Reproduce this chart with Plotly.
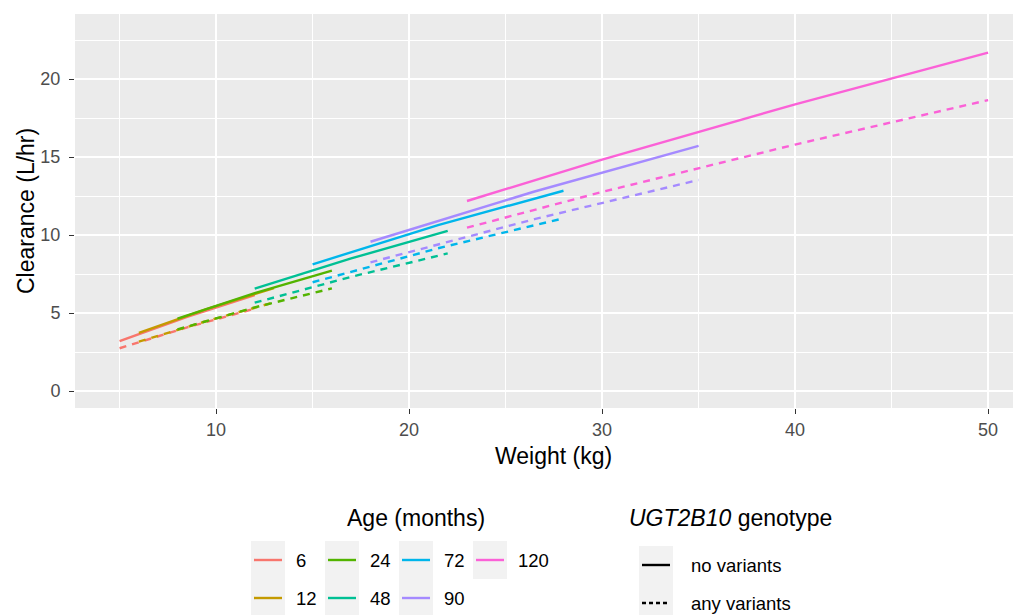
import plotly.graph_objects as go

# ---------------- data ----------------
ages = [6, 12, 24, 48, 72, 90, 120]
age_colors = ["#F8766D", "#C49A00", "#53B400", "#00C094", "#00B6EB", "#A58AFF", "#FB61D7"]

weight_points = [
    [5, 8.5, 12],
    [6, 9.5, 13],
    [8, 12, 16],
    [12, 17, 22],
    [15, 21.5, 28],
    [18, 26.5, 35],
    [23, 30, 40, 50],
]
clearance_no_variants = [
    [3.20, 4.76, 6.15],
    [3.72, 5.25, 6.60],
    [4.64, 6.28, 7.72],
    [6.56, 8.50, 10.26],
    [8.12, 10.64, 12.84],
    [9.57, 12.79, 15.71],
    [12.18, 14.84, 18.38, 21.69],
]
clearance_any_variants = [
    [2.74, 4.08, 5.28],
    [3.16, 4.48, 5.68],
    [3.95, 5.36, 6.58],
    [5.66, 7.32, 8.82],
    [6.97, 9.15, 11.07],
    [8.25, 11.02, 13.53],
    [10.47, 12.76, 15.80, 18.65],
]
genotypes = ["no variants", "any variants"]
x_ticks = [10, 20, 30, 40, 50]
y_ticks = [0, 5, 10, 15, 20]

# ---------------- style ----------------
FONT = "Liberation Sans"
W, H = 1013, 615
L, R, T, B = 75, 0, 14, 207
LW = 2.4
DASH = "7px,6px"
TITLE_SIZE = 23
TICK_SIZE = 18
LEG_SIZE = 18.5


def px(x):
    return (x - L) / (W - L - R)


def py(y):
    return (H - B - y) / (H - T - B)


fig = go.Figure()

for age, col, w, cn, ca in zip(ages, age_colors, weight_points,
                               clearance_no_variants, clearance_any_variants):
    fig.add_trace(go.Scatter(x=w, y=cn, mode="lines", name=f"{age} no variants",
                             line=dict(color=col, width=LW), showlegend=False))
    fig.add_trace(go.Scatter(x=w, y=ca, mode="lines", name=f"{age} any variants",
                             line=dict(color=col, width=LW, dash=DASH), showlegend=False))

shapes = []
annotations = []

# axis titles
annotations.append(dict(text="Weight (kg)", x=px(553), y=py(456), xref="paper", yref="paper",
                        showarrow=False, xanchor="center", yanchor="middle",
                        font=dict(family=FONT, size=TITLE_SIZE, color="black")))
annotations.append(dict(text="Clearance (L/hr)", x=px(26), y=py(211), xref="paper", yref="paper",
                        showarrow=False, xanchor="center", yanchor="middle", textangle=-90,
                        font=dict(family=FONT, size=TITLE_SIZE, color="black")))

# ---- Age legend (2 rows, column-major) ----
annotations.append(dict(text="Age (months)", x=px(416), y=py(518), xref="paper", yref="paper",
                        showarrow=False, xanchor="center", yanchor="middle",
                        font=dict(family=FONT, size=TITLE_SIZE, color="black")))
col_left = [251, 325, 399, 473]
row_cy = [560, 598]
KW, KH = 34, 38
for i, (age, col) in enumerate(zip(ages, age_colors)):
    c, r = divmod(i, 2)
    x0 = col_left[c]
    cy = row_cy[r]
    shapes.append(dict(type="rect", xref="paper", yref="paper",
                       x0=px(x0), x1=px(x0 + KW), y0=py(cy - KH / 2), y1=py(cy + KH / 2),
                       fillcolor="#F2F2F2", line=dict(width=0), layer="above"))
    shapes.append(dict(type="line", xref="paper", yref="paper",
                       x0=px(x0 + 3), x1=px(x0 + KW - 3), y0=py(cy), y1=py(cy),
                       line=dict(color=col, width=LW), layer="above"))
    annotations.append(dict(text=str(age), x=px(x0 + KW + 9), y=py(cy), xref="paper", yref="paper",
                            showarrow=False, xanchor="left", yanchor="middle",
                            font=dict(family=FONT, size=LEG_SIZE, color="black")))

# ---- Genotype legend ----
annotations.append(dict(text="<i>UGT2B10</i> genotype", x=px(730), y=py(518), xref="paper", yref="paper",
                        showarrow=False, xanchor="center", yanchor="middle",
                        font=dict(family=FONT, size=TITLE_SIZE, color="black")))
g_left = 639
g_cy = [565, 603]
for g, cy, dash in zip(genotypes, g_cy, ["solid", "4px,3px"]):
    shapes.append(dict(type="rect", xref="paper", yref="paper",
                       x0=px(g_left), x1=px(g_left + KW), y0=py(cy - KH / 2), y1=py(cy + KH / 2),
                       fillcolor="#F2F2F2", line=dict(width=0), layer="above"))
    shapes.append(dict(type="line", xref="paper", yref="paper",
                       x0=px(g_left + 3), x1=px(g_left + KW - 3), y0=py(cy), y1=py(cy),
                       line=dict(color="black", width=LW, dash=dash), layer="above"))
    annotations.append(dict(text=g, x=px(g_left + KW + 16), y=py(cy), xref="paper", yref="paper",
                            showarrow=False, xanchor="left", yanchor="middle",
                            font=dict(family=FONT, size=LEG_SIZE, color="black")))

axis_common = dict(
    showgrid=True, gridcolor="white", gridwidth=1.6,
    zeroline=False, showline=False,
    ticks="outside", ticklen=5, tickwidth=1.2, tickcolor="#333333",
    tickfont=dict(family=FONT, size=TICK_SIZE, color="#4D4D4D"),
)

fig.update_layout(
    width=W, height=H,
    margin=dict(l=L, r=R, t=T, b=B, autoexpand=False),
    paper_bgcolor="white", plot_bgcolor="#EBEBEB",
    showlegend=False,
    shapes=shapes, annotations=annotations,
    xaxis=dict(range=[2.69, 51.29], tickvals=x_ticks, ticklabelstandoff=0,
               minor=dict(dtick=5, tick0=5, showgrid=True, gridcolor="white", gridwidth=0.8, ticks=""),
               **axis_common),
    yaxis=dict(range=[-1.09, 24.17], tickvals=y_ticks, ticklabelstandoff=5,
               minor=dict(dtick=2.5, tick0=2.5, showgrid=True, gridcolor="white", gridwidth=0.8, ticks=""),
               **axis_common),
)

fig.write_html("out.html")
